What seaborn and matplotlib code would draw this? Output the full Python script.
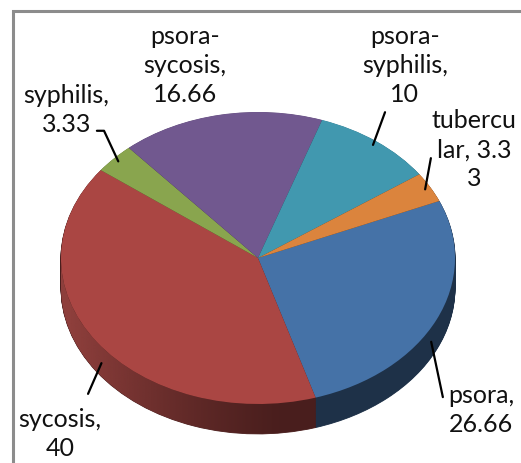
"""
3D-style pie of miasm distribution (psora, sycosis, syphilis ...).
"""

import numpy as np
import matplotlib
matplotlib.use("Agg")
import matplotlib.pyplot as plt
import matplotlib.colors as mcolors
from matplotlib.patches import Rectangle, PathPatch
from matplotlib.path import Path
import seaborn as sns

# Data
categories = ["psora", "sycosis", "syphilis", "psora-sycosis", "psora-syphilis", "tubercular"]
values = [26.66, 40, 3.33, 16.66, 10, 3.33]
label_texts = [
    "psora,\n26.66",
    "sycosis,\n40",
    "syphilis,\n3.33",
    "psora-\nsycosis,\n16.66",
    "psora-\nsyphilis,\n10",
    "tubercu\nlar, 3.3\n3",
]

# Layout (figure fractions) and styling
label_pos = [(0.923, 0.116), (0.115, 0.065), (0.127, 0.763),
             (0.355, 0.858), (0.777, 0.858), (0.910, 0.677)]
leader_start = [(0.850, 0.142), (0.169, 0.149), (0.186, 0.716),
                None, (0.739, 0.756), (0.827, 0.657)]
leader_style = ["arc3", "arc3", "angle,angleA=0,angleB=115,rad=0",
                "arc3", "arc3", "arc3"]
colors = ["#4572A7", "#AA4643", "#89A54E", "#71588F", "#4198AF", "#DB843D"]
START = 23
DEPTH = 0.205

W, H = 521, 464
CX, CY = 258, 259     # ellipse centre in pixels (from top)
RX, RY = 197, 146     # ellipse semi-axes in pixels


def main():
    sns.set_style("white")
    plt.rcParams["font.family"] = ["Lato", "DejaVu Sans"]

    fig = plt.figure(figsize=(W / 100, H / 100), dpi=100)
    ax = fig.add_axes([0, 0, 1, 1])

    # side of the 3D pie: stacked, darker copies shifted downwards
    side_colors = [tuple(c * 0.43 for c in mcolors.to_rgb(col)) for col in colors]
    for k in np.linspace(DEPTH, 0.005, 40):
        side, _ = ax.pie(values, colors=side_colors, startangle=START, counterclock=False,
                         center=(0, -k), radius=1, wedgeprops=dict(linewidth=0.6))
        for s in side:
            s.set_edgecolor(s.get_facecolor())

    # lighter shading towards the left end of the side band
    t = np.linspace(np.pi, 2 * np.pi, 200)
    band = np.concatenate([np.c_[np.cos(t), np.sin(t)],
                           np.c_[np.cos(t[::-1]), np.sin(t[::-1]) - DEPTH]])
    band_patch = PathPatch(Path(band, closed=False), transform=ax.transData,
                           facecolor="none", edgecolor="none")
    ax.add_patch(band_patch)
    gx = np.linspace(-1, 1, 256)
    grad = np.zeros((2, 256, 4))
    grad[..., :3] = mcolors.to_rgb("#8E3F3C")
    grad[..., 3] = np.clip((0.15 - gx) / 1.1, 0, 1) ** 1.3
    img = ax.imshow(grad, extent=(-1, 1, -1 - DEPTH, 0), origin="lower",
                    interpolation="bilinear", zorder=1.5)
    img.set_clip_path(band_patch)

    # top face
    wedges, _ = ax.pie(values, colors=colors, startangle=START, counterclock=False,
                       center=(0, 0), radius=1, wedgeprops=dict(linewidth=0, zorder=2))

    ax.set_aspect("auto")
    ax.set_xlim(-CX / RX, (W - CX) / RX)
    ax.set_ylim((CY - H) / RY, CY / RY)
    ax.axis("off")

    # labels, plus leader lines to the slice rims
    for w, txt, pos, start, cs in zip(wedges, label_texts, label_pos,
                                      leader_start, leader_style):
        fig.text(pos[0], pos[1], txt, ha="center", va="center", fontsize=18,
                 linespacing=1.32, color="#111111")
        if start is None:
            continue
        mid = np.deg2rad((w.theta1 + w.theta2) / 2)
        x, y = 0.97 * np.cos(mid), 0.97 * np.sin(mid)
        if y < 0:
            y -= DEPTH * 0.8
        ax.annotate("", xy=(x, y), xycoords="data",
                    xytext=start, textcoords="figure fraction",
                    arrowprops=dict(arrowstyle="-", color="black", lw=1.6,
                                    shrinkA=0, shrinkB=0, connectionstyle=cs),
                    zorder=3)

    # chart frame (only top/left visible in the crop)
    fig.patches.append(Rectangle((12.5 / W, -0.1), 2, 1.1 - 12.5 / H,
                                 transform=fig.transFigure, fill=False,
                                 edgecolor="#8c8c8c", linewidth=2.2))

    fig.savefig("out.png", dpi=100)


if __name__ == "__main__":
    main()
